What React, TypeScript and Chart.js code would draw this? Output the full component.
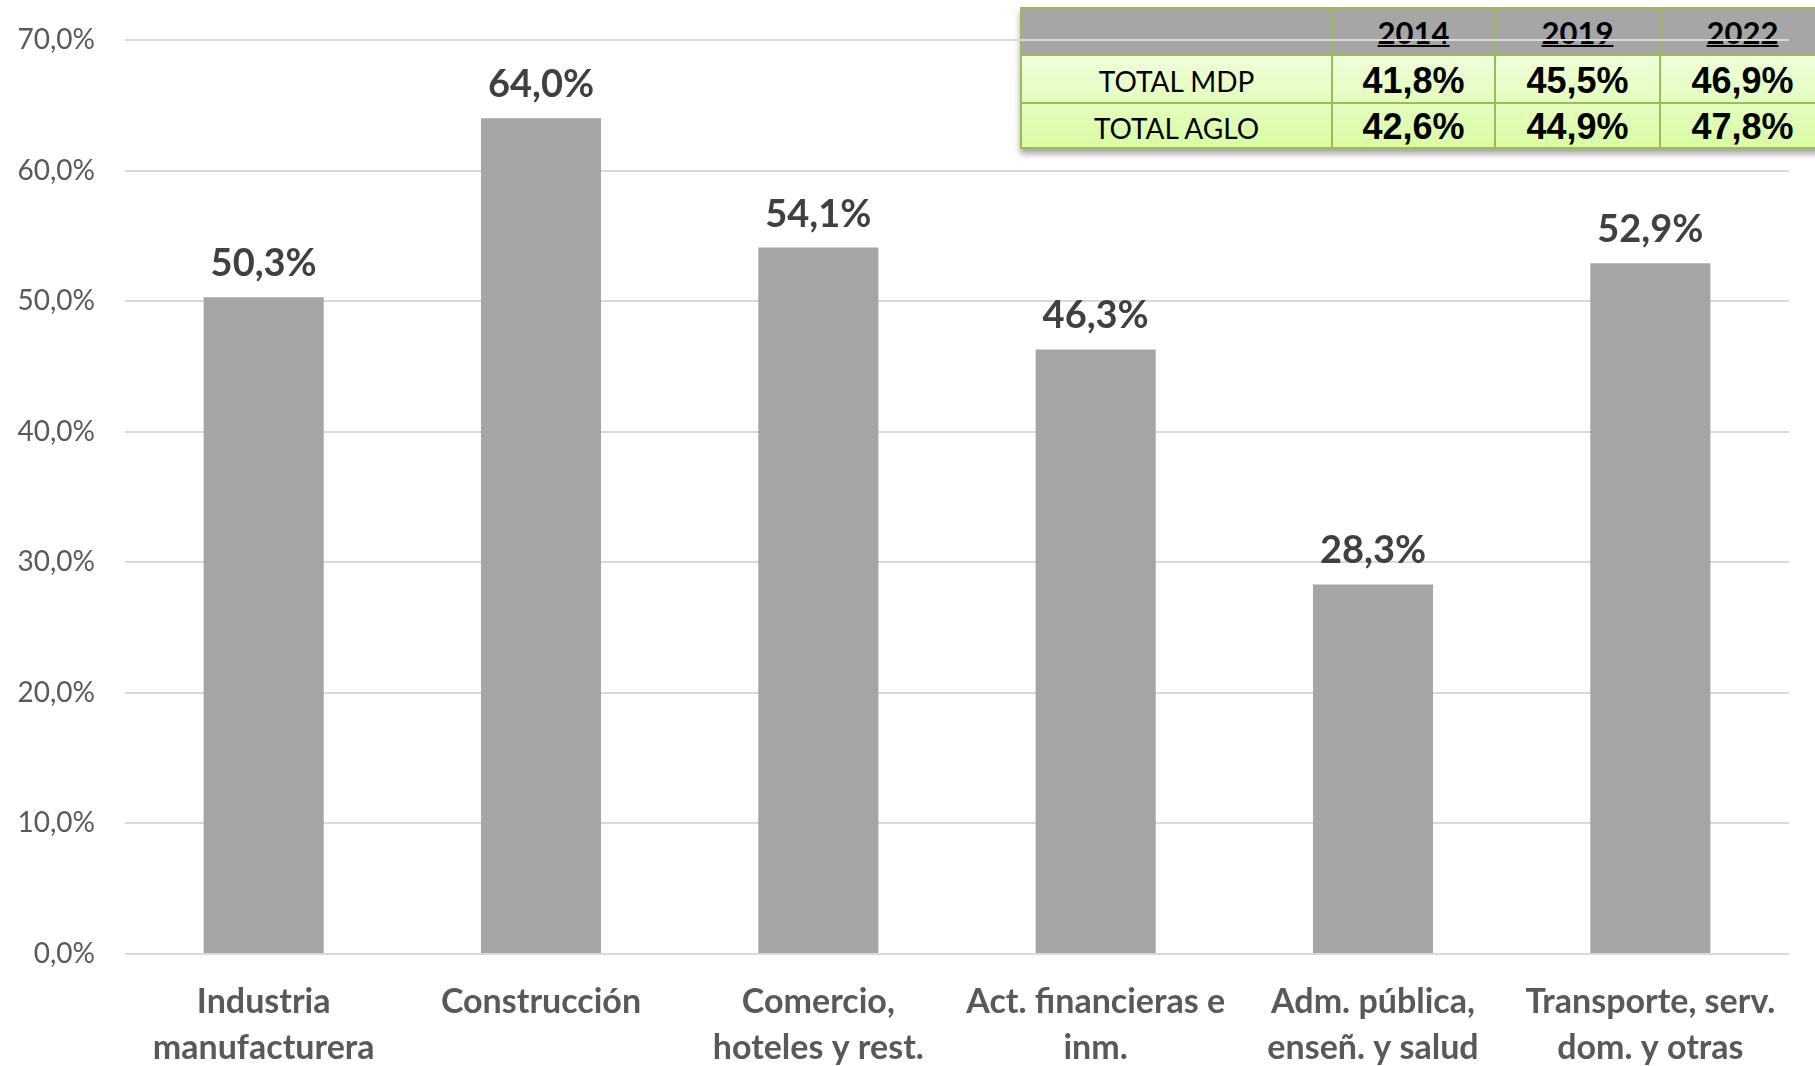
import React, { useEffect, useRef } from "react";
import { Chart, registerables } from "chart.js";

Chart.register(...registerables);

const categories: string[][] = [
  ["Industria", "manufacturera"],
  ["Construcción"],
  ["Comercio,", "hoteles y rest."],
  ["Act. financieras e", "inm."],
  ["Adm. pública,", "enseñ. y salud"],
  ["Transporte, serv.", "dom. y otras"],
];
const values: number[] = [50.3, 64.0, 54.1, 46.3, 28.3, 52.9];
const yMin = 0;
const yMax = 70;
const yStep = 10;

const tableYears: string[] = ["2014", "2019", "2022"];
const tableRowLabels: string[] = ["TOTAL MDP", "TOTAL AGLO"];
const totalMdp: number[] = [41.8, 45.5, 46.9];
const totalAglo: number[] = [42.6, 44.9, 47.8];

const fmt = (v: number) => v.toFixed(1).replace(".", ",") + "%";

const W = 1815;
const H = 1066;

const dataLabelPlugin = {
  id: "dataLabels",
  afterDatasetsDraw(chart: any) {
    const ctx = chart.ctx;
    const meta = chart.getDatasetMeta(0);
    ctx.save();
    ctx.font = "bold 38px Lato";
    ctx.fillStyle = "#404040";
    ctx.textAlign = "center";
    ctx.textBaseline = "alphabetic";
    meta.data.forEach((bar: any, i: number) => {
      ctx.fillText(fmt(values[i]), bar.x, bar.y - 21);
    });
    ctx.restore();
  },
};

function SummaryTable() {
  const colW = [311, 163, 165, 165];
  const rowH = [47, 48, 45];
  const border = "2px solid #9bbb59";
  const rows = [totalMdp, totalAglo];
  const cell = (content: React.ReactNode, style: React.CSSProperties, key: string) => (
    <div
      key={key}
      style={{
        boxSizing: "border-box",
        borderRight: border,
        borderBottom: border,
        display: "flex",
        justifyContent: "center",
        ...style,
      }}
    >
      {content}
    </div>
  );
  const children: React.ReactNode[] = [];
  children.push(cell(null, { background: "#a6a6a6" }, "h0"));
  tableYears.forEach((y, i) =>
    children.push(
      cell(
        <span
          style={{
            font: "bold 31px Lato",
            lineHeight: "31px",
            height: 31,
            color: "#000",
            textDecoration: "underline",
            textDecorationThickness: "2px",
            textUnderlineOffset: "1px",
            paddingTop: 8,
          }}
        >
          {y}
        </span>,
        { background: "#a6a6a6", alignItems: "flex-start" },
        "h" + (i + 1)
      )
    )
  );
  rows.forEach((r, ri) => {
    children.push(
      cell(
        <span style={{ font: "28px Lato", color: "#000", lineHeight: "28px", paddingTop: 4 }}>
          {tableRowLabels[ri]}
        </span>,
        { alignItems: "center" },
        "r" + ri + "l"
      )
    );
    r.forEach((v, ci) =>
      children.push(
        cell(
          <span
            style={{
              font: "bold 36px 'Liberation Sans'",
              color: "#000",
              lineHeight: "36px",
              paddingTop: 3,
            }}
          >
            {fmt(v)}
          </span>,
          { alignItems: "center" },
          "r" + ri + "c" + ci
        )
      )
    );
  });
  return (
    <div
      style={{
        position: "absolute",
        left: 1020,
        top: 7,
        width: 806,
        height: 142,
        boxSizing: "border-box",
        borderLeft: border,
        borderTop: border,
        boxShadow: "0 5px 6px rgba(0,0,0,0.35)",
        display: "grid",
        gridTemplateColumns: colW.map((w) => w + "px").join(" "),
        gridTemplateRows: rowH.map((h) => h + "px").join(" "),
        background:
          "linear-gradient(to bottom, #a6a6a6 0px, #a6a6a6 47px, #effed9 47px, #d9fca3 140px)",
      }}
    >
      {children}
    </div>
  );
}

export default function App() {
  const canvasRef = useRef<HTMLCanvasElement | null>(null);

  useEffect(() => {
    const canvas = canvasRef.current;
    if (!canvas) return;
    const chart = new Chart(canvas, {
      type: "bar",
      data: {
        labels: categories,
        datasets: [
          {
            data: values,
            backgroundColor: "#a5a5a5",
            borderWidth: 0,
            barPercentage: 0.433,
            categoryPercentage: 1,
          },
        ],
      },
      options: {
        responsive: false,
        maintainAspectRatio: false,
        devicePixelRatio: 1,
        animation: false,
        layout: { padding: { top: 40, right: 26, left: 0, bottom: 0 } },
        plugins: {
          legend: { display: false },
          tooltip: { enabled: false },
          title: { display: false },
        },
        scales: {
          x: {
            grid: { display: false, drawTicks: false },
            border: { display: false },
            ticks: {
              color: "#595959",
              font: { family: "Lato", size: 34, weight: "bold", lineHeight: 1.353 },
              padding: 25,
              maxRotation: 0,
              autoSkip: false,
            },
            afterFit: (scale: any) => {
              scale.height = 112;
            },
          },
          y: {
            min: yMin,
            max: yMax,
            grid: { color: "#d9d9d9", lineWidth: 2, drawTicks: false },
            border: { display: false },
            ticks: {
              stepSize: yStep,
              color: "#595959",
              font: { family: "Lato", size: 28 },
              padding: 30,
              callback: (v: any) => fmt(Number(v)),
            },
            afterFit: (scale: any) => {
              scale.width = 125;
              scale.paddingTop = 0;
              scale.paddingBottom = 0;
            },
          },
        },
      },
      plugins: [dataLabelPlugin],
    });
    return () => chart.destroy();
  }, []);

  return (
    <div
      style={{
        position: "fixed",
        left: 0,
        top: 0,
        width: W,
        height: H,
        background: "#ffffff",
        overflow: "hidden",
      }}
    >
      <SummaryTable />
      <canvas
        ref={canvasRef}
        width={W}
        height={H}
        style={{ position: "absolute", left: 0, top: 0, width: W, height: H }}
      />
    </div>
  );
}
